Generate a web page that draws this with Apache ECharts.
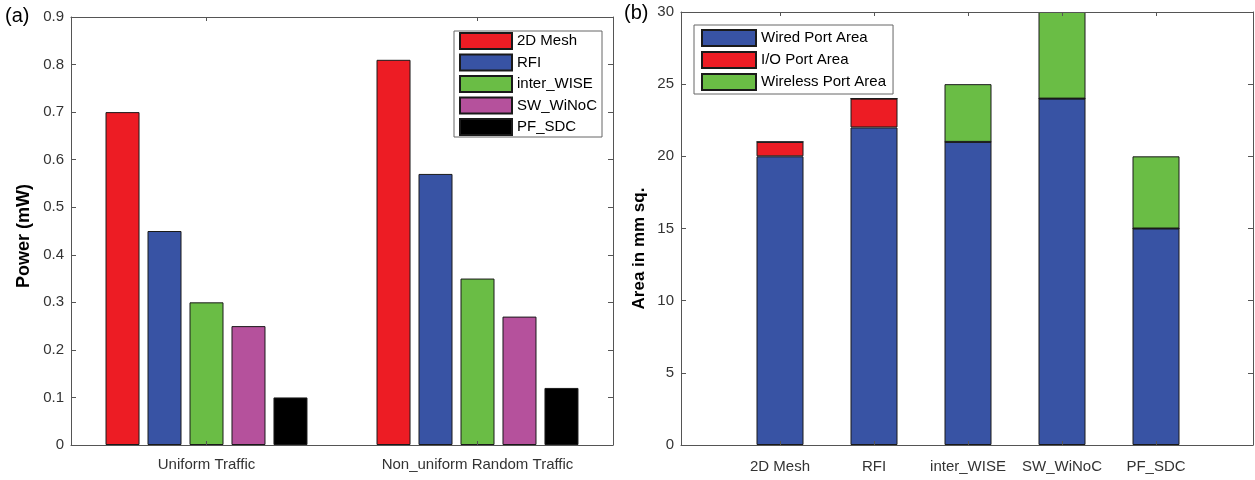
<!DOCTYPE html>
<html><head><meta charset="utf-8">
<script src="https://cdn.jsdelivr.net/npm/echarts@6/dist/echarts.min.js"></script>
<style>html,body{margin:0;padding:0;background:#fff}#c{width:1255px;height:480px}</style>
</head><body><div id="c"></div>
<script>
// ---- Panel (a): power ----
const trafficCategories = ['Uniform Traffic', 'Non_uniform Random Traffic'];
const powerSeriesNames = ['2D Mesh', 'RFI', 'inter_WISE', 'SW_WiNoC', 'PF_SDC'];
const power2DMesh   = [0.70, 0.81];
const powerRFI      = [0.45, 0.57];
const powerInterWISE= [0.30, 0.35];
const powerSWWiNoC  = [0.25, 0.27];
const powerPFSDC    = [0.10, 0.12];
const powerAxisMin = 0, powerAxisMax = 0.9, powerAxisStep = 0.1;

// ---- Panel (b): area ----
const archCategories = ['2D Mesh', 'RFI', 'inter_WISE', 'SW_WiNoC', 'PF_SDC'];
const areaSeriesNames = ['Wired Port Area', 'I/O Port Area', 'Wireless Port Area'];
const wiredPortArea    = [20, 22, 21, 24, 15];
const ioPortArea       = [1, 2, 0, 0, 0];
const wirelessPortArea = [0, 0, 4, 6, 5];
const areaAxisMin = 0, areaAxisMax = 30, areaAxisStep = 5;

const RED = '#ED1C24', BLUE = '#3853A4', GREEN = '#6ABD45', MAGENTA = '#B5519C', BLACK = '#000000';
const EDGE = '#1a1a1a';
const AXIS = '#555555';
const FONT = 'Liberation Sans, Arial, sans-serif';

const chart = echarts.init(document.getElementById('c'), null, {renderer: 'canvas'});

const axisLineStyle = {show: true, onZero: false, lineStyle: {color: AXIS, width: 1}};
const labelStyle = {fontSize: 15, color: '#333', fontFamily: FONT};
const tickIn = len => ({show: true, inside: true, length: len, lineStyle: {color: AXIS}});
const barStyle = color => ({color: color, borderColor: EDGE, borderWidth: 1});

const option = {
  backgroundColor: '#fff',
  animation: false,
  textStyle: {fontFamily: FONT},
  graphic: [
    {type: 'text', left: 5, top: 6, style: {text: '(a)', fontSize: 20, fill: '#000', fontFamily: FONT}},
    {type: 'text', left: 624, top: 3, style: {text: '(b)', fontSize: 20, fill: '#000', fontFamily: FONT}}
  ],
  grid: [
    {left: 71, top: 17, width: 542, bottom: 35},          // panel (a)
    {left: 681, top: 12, right: 2, bottom: 35},           // panel (b) frame
    {left: 733, top: 12, width: 470, bottom: 35}          // panel (b) bars
  ],
  legend: [
    {
      data: powerSeriesNames, orient: 'vertical', left: 454, top: 31,
      itemWidth: 52, itemHeight: 16, itemGap: 3.5, icon: 'rect',
      padding: [1, 5, 1, 5], borderColor: '#666', borderWidth: 1, backgroundColor: '#fff',
      textStyle: {fontSize: 15, color: '#000', fontFamily: FONT}
    },
    {
      data: areaSeriesNames, orient: 'vertical', left: 694, top: 25,
      itemWidth: 54, itemHeight: 16, itemGap: 4, icon: 'rect',
      padding: [4, 7, 3, 7], borderColor: '#666', borderWidth: 1, backgroundColor: '#fff',
      textStyle: {fontSize: 15, color: '#000', fontFamily: FONT}
    }
  ],
  xAxis: [
    {
      type: 'category', gridIndex: 0, data: trafficCategories, position: 'bottom', z: 5,
      axisLine: axisLineStyle, axisTick: Object.assign({alignWithLabel: true}, tickIn(4)),
      axisLabel: Object.assign({margin: 12}, labelStyle), splitLine: {show: false}
    },
    {
      type: 'category', gridIndex: 0, data: trafficCategories, position: 'top', z: 5,
      axisLine: axisLineStyle, axisTick: Object.assign({alignWithLabel: true}, tickIn(4)),
      axisLabel: {show: false}, splitLine: {show: false}
    },
    // frame lines of panel (b)
    {type: 'value', gridIndex: 1, position: 'bottom', min: 0, max: 1, axisLine: axisLineStyle,
      axisTick: {show: false}, axisLabel: {show: false}, splitLine: {show: false}},
    {type: 'value', gridIndex: 1, position: 'top', min: 0, max: 1, axisLine: axisLineStyle,
      axisTick: {show: false}, axisLabel: {show: false}, splitLine: {show: false}},
    // category axes of panel (b) bars
    {
      type: 'category', gridIndex: 2, data: archCategories, position: 'bottom', z: 5,
      axisLine: axisLineStyle, axisTick: Object.assign({alignWithLabel: true}, tickIn(4)),
      axisLabel: Object.assign({margin: 14, interval: 0}, labelStyle), splitLine: {show: false}
    },
    {
      type: 'category', gridIndex: 2, data: archCategories, position: 'top', z: 5,
      axisLine: axisLineStyle, axisTick: Object.assign({alignWithLabel: true}, tickIn(4)),
      axisLabel: {show: false}, splitLine: {show: false}
    }
  ],
  yAxis: [
    {
      type: 'value', gridIndex: 0, position: 'left', min: powerAxisMin, max: powerAxisMax, interval: powerAxisStep,
      name: 'Power (mW)', nameLocation: 'middle', nameGap: 38,
      nameTextStyle: {fontSize: 18, fontWeight: 'bold', color: '#000', fontFamily: FONT, padding: [0, 10, 0, 0]},
      axisLine: axisLineStyle, axisTick: tickIn(5),
      axisLabel: Object.assign({margin: 7}, labelStyle), splitLine: {show: false}
    },
    {
      type: 'value', gridIndex: 0, position: 'right', min: powerAxisMin, max: powerAxisMax, interval: powerAxisStep,
      axisLine: axisLineStyle, axisTick: tickIn(5), axisLabel: {show: false}, splitLine: {show: false}
    },
    {
      type: 'value', gridIndex: 1, position: 'left', min: areaAxisMin, max: areaAxisMax, interval: areaAxisStep,
      name: 'Area in mm sq.', nameLocation: 'middle', nameGap: 33,
      nameTextStyle: {fontSize: 17, fontWeight: 'bold', color: '#000', fontFamily: FONT, padding: [0, 40, 0, 0]},
      axisLine: axisLineStyle, axisTick: tickIn(5),
      axisLabel: Object.assign({margin: 7}, labelStyle), splitLine: {show: false}
    },
    {
      type: 'value', gridIndex: 1, position: 'right', min: areaAxisMin, max: areaAxisMax, interval: areaAxisStep,
      axisLine: axisLineStyle, axisTick: tickIn(5), axisLabel: {show: false}, splitLine: {show: false}
    },
    {
      type: 'value', gridIndex: 2, min: areaAxisMin, max: areaAxisMax, interval: areaAxisStep, show: false
    }
  ],
  series: [
    {name: '2D Mesh', type: 'bar', xAxisIndex: 0, yAxisIndex: 0, data: power2DMesh, barWidth: 34, barGap: '23.5%', itemStyle: barStyle(RED)},
    {name: 'RFI', type: 'bar', xAxisIndex: 0, yAxisIndex: 0, data: powerRFI, barWidth: 34, barGap: '23.5%', itemStyle: barStyle(BLUE)},
    {name: 'inter_WISE', type: 'bar', xAxisIndex: 0, yAxisIndex: 0, data: powerInterWISE, barWidth: 34, barGap: '23.5%', itemStyle: barStyle(GREEN)},
    {name: 'SW_WiNoC', type: 'bar', xAxisIndex: 0, yAxisIndex: 0, data: powerSWWiNoC, barWidth: 34, barGap: '23.5%', itemStyle: barStyle(MAGENTA)},
    {name: 'PF_SDC', type: 'bar', xAxisIndex: 0, yAxisIndex: 0, data: powerPFSDC, barWidth: 34, barGap: '23.5%', itemStyle: barStyle(BLACK)},

    {name: 'Wired Port Area', type: 'bar', xAxisIndex: 4, yAxisIndex: 4, stack: 'area', data: wiredPortArea, barWidth: 47, itemStyle: barStyle(BLUE)},
    {name: 'I/O Port Area', type: 'bar', xAxisIndex: 4, yAxisIndex: 4, stack: 'area', data: ioPortArea, barWidth: 47, itemStyle: barStyle(RED)},
    {name: 'Wireless Port Area', type: 'bar', xAxisIndex: 4, yAxisIndex: 4, stack: 'area', data: wirelessPortArea, barWidth: 47, itemStyle: barStyle(GREEN)}
  ]
};
chart.setOption(option);
</script>
</body></html>
